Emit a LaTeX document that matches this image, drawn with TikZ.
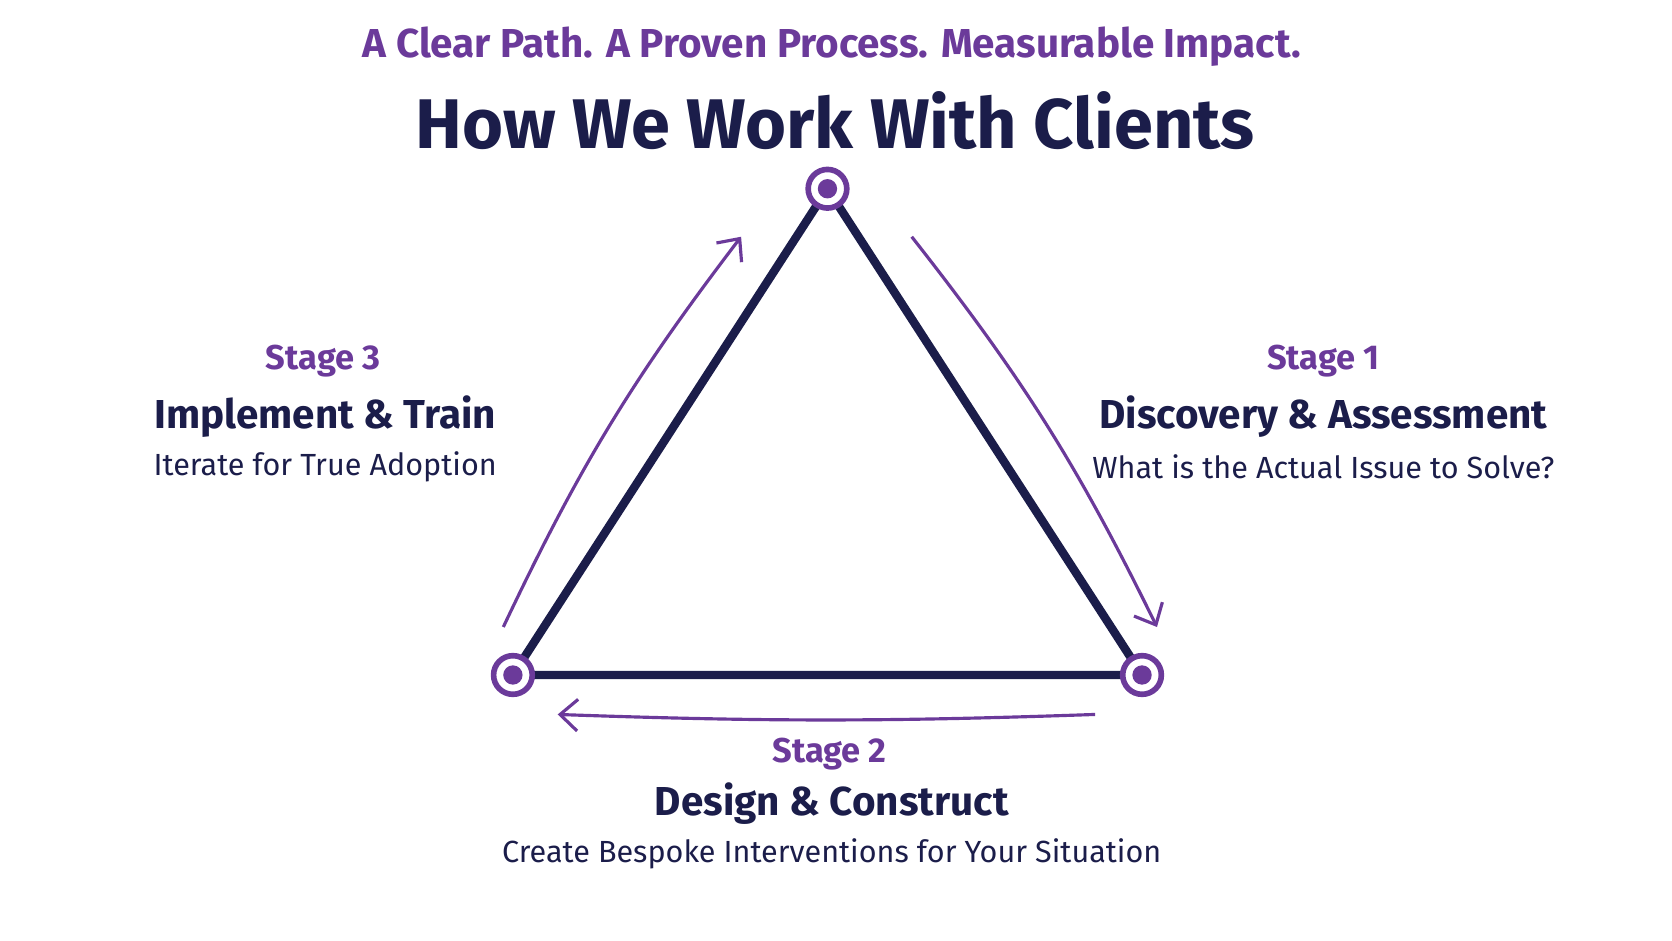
\documentclass[tikz,border=0pt]{standalone}
\usepackage{fontspec}
\setmainfont{Fira Sans}
\usetikzlibrary{arrows.meta}
\definecolor{navy}{HTML}{1B1D4A}
\definecolor{plum}{HTML}{6B3A9A}
\begin{document}
\begin{tikzpicture}[x=0.01066cm,y=-0.01066cm,
    ring/.style={circle,draw=plum,line width=1.6pt,fill=white,minimum size=11pt,inner sep=0pt},
    dot/.style={circle,fill=plum,minimum size=5.5pt,inner sep=0pt},
    side/.style={draw=navy,line width=2.4pt},
    flow/.style={draw=plum,line width=0.9pt,-{Straight Barb[length=5pt,width=9pt]}},
    stage/.style={text=plum,font=\fontsize{9.8}{12}\selectfont\bfseries},
    phase/.style={text=navy,font=\fontsize{11.5}{14}\selectfont\bfseries},
    note/.style={text=navy,font=\fontsize{8.7}{11}\selectfont}]
  \useasboundingbox (0,0) rectangle (1568,882);
  % titles
  \node (sub) [text=plum,font=\fontsize{11.5}{14}\selectfont\bfseries] at (780,44) {A Clear Path. A Proven Process. Measurable Impact.};
  \node (title) [text=navy,font=\fontsize{20}{24}\selectfont\bfseries] at (783,113) {How We Work With Clients};
  % triangle
  \coordinate (T) at (776,177);
  \coordinate (L) at (481,633);
  \coordinate (R) at (1071,633);
  \draw[side] (T) -- (R) -- (L) -- cycle;
  \begin{scope}[every node/.style={ring}]
    \node (top) at (T) {};
    \node (left) at (L) {};
    \node (right) at (R) {};
  \end{scope}
  \node[dot] at (top) {};
  \node[dot] at (left) {};
  \node[dot] at (right) {};
  % arrows
  \coordinate (a1) at (855,222);
  \coordinate (b1) at (1085,588);
  \coordinate (a2) at (1027,670);
  \coordinate (b2) at (523,670);
  \coordinate (a3) at (472,588);
  \coordinate (b3) at (695,222);
  \draw[flow] (a1) to[bend left=6] (b1);
  \draw[flow] (a2) to[bend left=2] (b2);
  \draw[flow] (a3) to[bend left=6] (b3);
  % stages
  \node (s1) [stage] at (1241,339) {Stage 1};
  \node (n1) [phase] at (1241,391) {Discovery \& Assessment};
  \node (d1) [note] at (1241,438) {What is the Actual Issue to Solve?};
  \node (s2) [stage] at (778,707) {Stage 2};
  \node (n2) [phase] at (780,754) {Design \& Construct};
  \node (d2) [note] at (780,801) {Create Bespoke Interventions for Your Situation};
  \node (s3) [stage] at (303,339) {Stage 3};
  \node (n3) [phase] at (305,391) {Implement \& Train};
  \node (d3) [note] at (305,438) {Iterate for True Adoption};
\end{tikzpicture}
\end{document}
